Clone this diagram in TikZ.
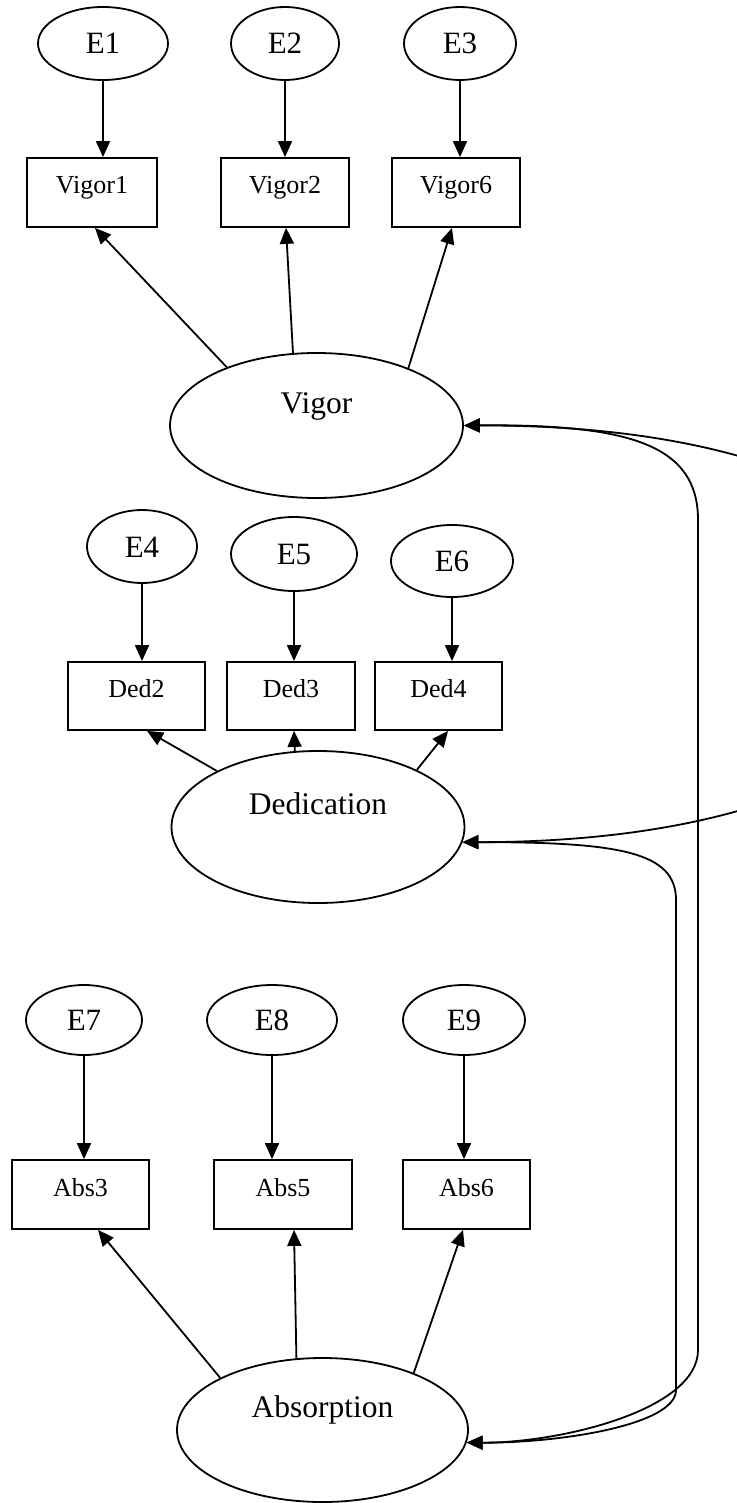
\documentclass[tikz,border=0pt]{standalone}
\usepackage{fontspec}
\setmainfont{Liberation Serif}
\usetikzlibrary{arrows.meta,shapes.geometric}

\begin{document}
\begin{tikzpicture}[x=1pt,y=-1pt,line width=1.8pt,
  errvar/.style={draw,ellipse,inner sep=0pt,minimum height=73pt,
    font=\fontsize{31}{36}\selectfont,text height=21pt,text depth=0pt},
  indic/.style={draw,rectangle,inner sep=0pt,minimum height=69pt,
    font=\fontsize{26}{30}\selectfont,text height=17pt,text depth=14pt},
  latent/.style={draw,ellipse,inner sep=0pt,minimum width=293pt,minimum height=145pt,
    font=\fontsize{31.5}{36}\selectfont,text height=21pt,text depth=46pt},
  arr/.style={-{Triangle[length=16pt,width=14pt]}},
  covar/.style={{Triangle[length=16pt,width=14pt]}-{Triangle[length=16pt,width=14pt]}}]

\useasboundingbox (0,0) rectangle (736,1503);
\fill[white] (0,0) rectangle (736,1503);

% ---- Vigor block ----
\node[errvar,minimum width=130pt] (e1) at (103,43.5) {E1};
\node[errvar,minimum width=108pt] (e2) at (285,43.5) {E2};
\node[errvar,minimum width=112pt] (e3) at (460,43.5) {E3};
\node[indic,minimum width=130pt] (v1) at (92,192.5) {Vigor1};
\node[indic,minimum width=128pt] (v2) at (285,192.5) {Vigor2};
\node[indic,minimum width=128pt] (v6) at (456,192.5) {Vigor6};
\node[latent] (vig) at (316.5,425.5) {Vigor};

\draw[arr] (e1) -- (e1 |- v1.north);
\draw[arr] (e2) -- (e2 |- v2.north);
\draw[arr] (e3) -- (e3 |- v6.north);
\draw[arr] (vig.147) -- ([xshift=3pt]v1.south);
\draw[arr] (vig.108) -- ([xshift=1pt]v2.south);
\draw[arr] (vig.32) -- ([xshift=-4pt]v6.south);

% ---- Dedication block ----
\node[errvar,minimum width=110pt] (e4) at (142,546.5) {E4};
\node[errvar,minimum width=126pt,minimum height=74pt] (e5) at (294,554) {E5};
\node[errvar,minimum width=122pt,minimum height=72pt] (e6) at (452,561) {E6};
\node[indic,minimum width=137pt,minimum height=68pt] (d2) at (136.5,696) {Ded2};
\node[indic,minimum width=128pt,minimum height=68pt] (d3) at (291,696) {Ded3};
\node[indic,minimum width=127pt,minimum height=68pt] (d4) at (438.5,696) {Ded4};
\node[latent,minimum height=152pt] (ded) at (318,827) {Dedication};

\draw[arr] (e4) -- (e4 |- d2.north);
\draw[arr] (e5) -- (e5 |- d3.north);
\draw[arr] (e6) -- (e6 |- d4.north);
\draw[arr] (ded.151) -- ([xshift=10.5pt]d2.south);
\draw[arr] (ded.107) -- ([xshift=3pt]d3.south);
\draw[arr] (ded.30) -- ([xshift=9.5pt]d4.south);

% ---- Absorption block ----
\node[errvar,minimum width=116pt,minimum height=70pt] (e7) at (84,1020) {E7};
\node[errvar,minimum width=130pt,minimum height=70pt] (e8) at (272,1020) {E8};
\node[errvar,minimum width=122pt,minimum height=70pt] (e9) at (464,1020) {E9};
\node[indic,minimum width=137pt] (a3) at (80.5,1194.5) {Abs3};
\node[indic,minimum width=138pt] (a5) at (283,1194.5) {Abs5};
\node[indic,minimum width=127pt] (a6) at (466.5,1194.5) {Abs6};
\node[latent,minimum width=291pt,minimum height=144pt] (abs) at (322.5,1430) {Absorption};

\draw[arr] (e7) -- (e7 |- a3.north);
\draw[arr] (e8) -- (e8 |- a5.north);
\draw[arr] (e9) -- (e9 |- a6.north);
\draw[arr] (abs.153) -- ([xshift=17.5pt]a3.south);
\draw[arr] (abs.110) -- ([xshift=11pt]a5.south);
\draw[arr] (abs.32) -- ([xshift=-3.5pt]a6.south);

% ---- covariances between the factors ----
\draw[covar] (vig.east) .. controls (1100,424) and (1100,842) .. (ded.-6);
\draw[covar] (vig.east) .. controls (630,424) and (698,445) .. (698,520)
  -- (698,1350) .. controls (698,1410) and (560,1443) .. (abs.-5);
\draw[covar] (ded.-6) .. controls (620,842) and (676,852) .. (676,900)
  -- (676,1390) .. controls (676,1425) and (560,1443) .. (abs.-5);
\end{tikzpicture}
\end{document}
